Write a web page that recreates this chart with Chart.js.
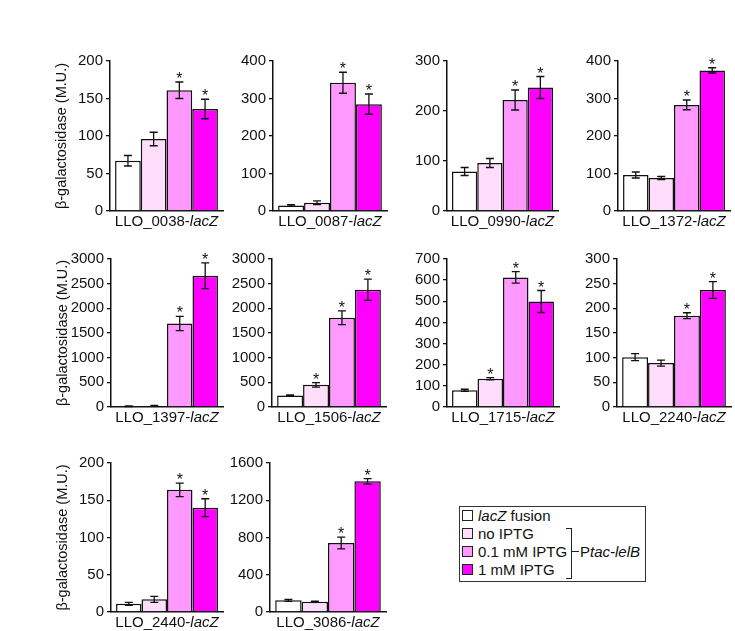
<!DOCTYPE html>
<html lang="en">
<head>
  <meta charset="UTF-8" />
  <title>lacZ fusion activity</title>
  <script src="https://cdn.jsdelivr.net/npm/chart.js"></script>
  <style>
    body {
      margin: 0;
      background: #ffffff;
      font-family: 'Liberation Sans', Arial, sans-serif;
      color: #111;
    }

    #stage {
      position: relative;
      width: 735px;
      height: 631px;
      overflow: hidden;
    }

    #stage canvas {
      position: absolute;
    }

    .legend-box {
      position: absolute;
      left: 459px;
      top: 506px;
      width: 185px;
      height: 74px;
      border: 1.5px solid #333;
    }

    .legend-row {
      position: absolute;
      left: 478px;
      height: 18px;
      line-height: 18px;
      font-size: 15px;
      white-space: nowrap;
    }

    .swatch {
      position: absolute;
      left: 462px;
      width: 9px;
      height: 9px;
      border: 1.5px solid #222;
    }

    .bracket {
      position: absolute;
      left: 566px;
      top: 528px;
      width: 5px;
      height: 49px;
      border: 1.5px solid #222;
      border-left: none;
    }

    .bracket-tick {
      position: absolute;
      left: 572px;
      top: 551px;
      width: 7px;
      border-top: 1.5px solid #222;
    }

    .bracket-label {
      position: absolute;
      left: 580px;
      top: 543px;
      line-height: 18px;
      font-size: 15px;
    }
  </style>
</head>
<body>
  <div id="stage"></div>

  <script>
    const genes = ['LLO_0038', 'LLO_0087', 'LLO_0990', 'LLO_1372', 'LLO_1397',
                   'LLO_1506', 'LLO_1715', 'LLO_2240', 'LLO_2440', 'LLO_3086'];
    const conditions = ['lacZ fusion', 'no IPTG', '0.1 mM IPTG', '1 mM IPTG'];

    // mean beta-galactosidase activity (M.U.) per gene
    const fusionOnly = [67, 15, 79, 96, 15, 234, 79, 101, 11, 125];
    const noIptg     = [96, 22, 96, 88, 22, 449, 134, 89, 17, 111];
    const iptgLow    = [161, 342, 222, 283, 1693, 1808, 613, 185, 164, 741];
    const iptgHigh   = [136, 285, 247, 375, 2660, 2377, 499, 237, 140, 1403];

    // standard deviations
    const fusionErr   = [7, 2, 8, 8, 8, 10, 5, 7, 2, 10];
    const noIptgErr   = [9, 5, 9, 4, 8, 45, 5, 6, 4, 5];
    const iptgLowErr  = [11, 28, 20, 13, 145, 140, 27, 6, 9, 64];
    const iptgHighErr = [13, 27, 22, 7, 260, 217, 52, 17, 12, 29];

    // which conditions carry an asterisk, per gene
    const starred = [[2, 3], [2, 3], [2, 3], [2, 3], [2, 3],
                     [1, 2, 3], [1, 2, 3], [2, 3], [2, 3], [2, 3]];

    const yMax  = [200, 400, 300, 400, 3000, 3000, 700, 300, 200, 1600];
    const yStep = [50, 100, 100, 100, 500, 500, 100, 50, 50, 400];

    const barColors = ['#ffffff', '#ffddfb', '#ff99ff', '#ff00ff'];
    const values = [fusionOnly, noIptg, iptgLow, iptgHigh];
    const errors = [fusionErr, noIptgErr, iptgLowErr, iptgHighErr];

    // plot frames on the page: y axis x, x axis end, top tick y, zero y
    const frames = [
      [110, 223, 61, 211], [273, 387, 61, 211], [447, 558, 61, 211], [618, 730, 61, 211],
      [111, 223, 259, 407], [272, 386, 259, 407], [447, 559, 259, 407], [617, 731, 259, 407],
      [111, 223, 463, 612], [270, 386, 463, 612]
    ];

    const FONT = "'Liberation Sans', Arial, sans-serif";
    Chart.defaults.font.family = FONT;
    Chart.defaults.color = '#111';

    const padTop = 16, padRight = 4, xH = 26;

    const errorBars = {
      id: 'errorBars',
      afterDatasetsDraw(chart) {
        const { ctx } = chart;
        const y = chart.scales.y;
        ctx.save();
        ctx.strokeStyle = '#111';
        ctx.fillStyle = '#111';
        ctx.lineWidth = 1.3;
        ctx.font = '16px ' + FONT;
        ctx.textAlign = 'center';
        ctx.textBaseline = 'alphabetic';
        chart.data.datasets.forEach((ds, di) => {
          chart.getDatasetMeta(di).data.forEach((bar, k) => {
            const v = ds.data[k], e = ds.errors[k];
            const top = y.getPixelForValue(v + e);
            const bot = y.getPixelForValue(Math.max(v - e, 0));
            const cap = 4;
            ctx.beginPath();
            ctx.moveTo(bar.x, top); ctx.lineTo(bar.x, bot);
            ctx.moveTo(bar.x - cap, top); ctx.lineTo(bar.x + cap, top);
            ctx.moveTo(bar.x - cap, bot); ctx.lineTo(bar.x + cap, bot);
            ctx.stroke();
            if (ds.star) ctx.fillText('*', bar.x, top + 2);
          });
        });
        ctx.restore();
      }
    };

    const geneLabel = {
      id: 'geneLabel',
      afterDraw(chart) {
        const { ctx, chartArea } = chart;
        const head = chart.data.labels[0] + '-';
        const tail = 'lacZ';
        ctx.save();
        ctx.fillStyle = '#111';
        ctx.textBaseline = 'middle';
        ctx.textAlign = 'left';
        ctx.font = '15px ' + FONT;
        const w1 = ctx.measureText(head).width;
        ctx.font = 'italic 15px ' + FONT;
        const w2 = ctx.measureText(tail).width;
        const x0 = (chartArea.left + chartArea.right) / 2 - (w1 + w2) / 2;
        const yy = chartArea.bottom + 11;
        ctx.font = '15px ' + FONT;
        ctx.fillText(head, x0, yy);
        ctx.font = 'italic 15px ' + FONT;
        ctx.fillText(tail, x0 + w1, yy);
        ctx.restore();
      }
    };

    const stage = document.getElementById('stage');

    genes.forEach((gene, i) => {
      const [fx, fr, ft, fz] = frames[i];
      const firstCol = i % 4 === 0;
      const yW = firstCol ? 57 : 46;

      const canvas = document.createElement('canvas');
      canvas.width = yW + (fr - fx) + padRight;
      canvas.height = padTop + (fz - ft) + xH;
      canvas.style.left = (fx - yW) + 'px';
      canvas.style.top = (ft - padTop) + 'px';
      stage.appendChild(canvas);

      new Chart(canvas, {
        type: 'bar',
        data: {
          labels: [gene],
          datasets: conditions.map((c, k) => ({
            label: c,
            data: [values[k][i]],
            errors: [errors[k][i]],
            star: starred[i].includes(k),
            backgroundColor: barColors[k],
            borderColor: '#111',
            borderWidth: 1.5,
            barPercentage: 1,
            categoryPercentage: 0.91
          }))
        },
        options: {
          responsive: false,
          animation: false,
          layout: { padding: { top: padTop, right: padRight, left: 0, bottom: 0 } },
          plugins: { legend: { display: false }, tooltip: { enabled: false } },
          scales: {
            x: {
              ticks: { display: false },
              grid: { display: false },
              border: { display: true, color: '#111', width: 1.5 },
              afterFit: s => { s.height = xH; }
            },
            y: {
              min: 0,
              max: yMax[i],
              ticks: {
                stepSize: yStep[i],
                font: { size: 15 },
                padding: 3,
                color: '#111',
                callback: v => String(v)
              },
              grid: { drawOnChartArea: false, drawTicks: true, tickLength: 4, color: '#111', lineWidth: 1.3 },
              border: { color: '#111', width: 1.5 },
              title: {
                display: firstCol,
                text: 'β-galactosidase (M.U.)',
                font: { size: 14.5 },
                color: '#111',
                padding: 0
              },
              afterFit: s => { s.width = yW; }
            }
          }
        },
        plugins: [errorBars, geneLabel]
      });
    });

    // legend with the Ptac-lelB bracket
    const box = document.createElement('div');
    box.className = 'legend-box';
    stage.appendChild(box);

    conditions.forEach((c, k) => {
      const center = 516 + k * 18;
      const sw = document.createElement('div');
      sw.className = 'swatch';
      sw.style.top = (center - 6) + 'px';
      sw.style.background = barColors[k];
      stage.appendChild(sw);

      const row = document.createElement('div');
      row.className = 'legend-row';
      row.style.top = (center - 9) + 'px';
      row.innerHTML = c.replace('lacZ', '<i>lacZ</i>');
      stage.appendChild(row);
    });

    const bracket = document.createElement('div');
    bracket.className = 'bracket';
    stage.appendChild(bracket);
    const tick = document.createElement('div');
    tick.className = 'bracket-tick';
    stage.appendChild(tick);
    const bl = document.createElement('div');
    bl.className = 'bracket-label';
    bl.innerHTML = 'P<i>tac-lelB</i>';
    stage.appendChild(bl);
  </script>
</body>
</html>
